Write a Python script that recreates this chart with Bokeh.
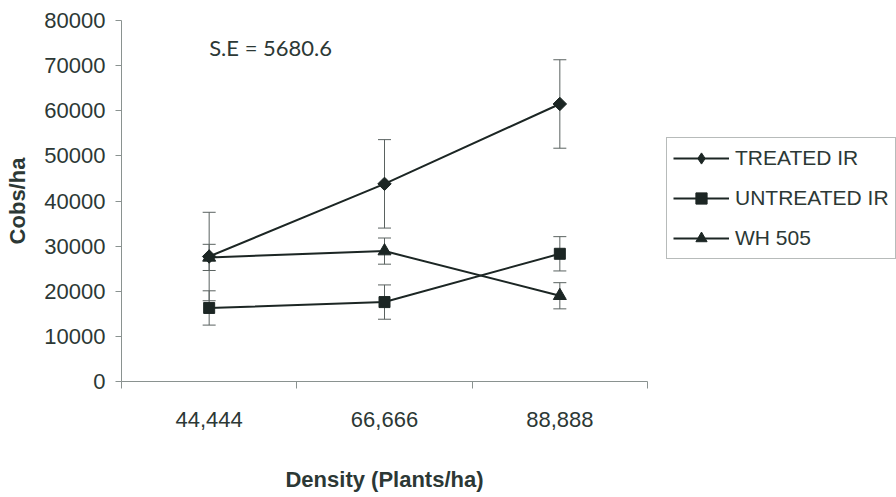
import math
from bokeh.plotting import figure
from bokeh.layouts import row
from bokeh.models import (ColumnDataSource, Range1d, FixedTicker, Whisker, TeeHead,
                          Legend, LegendItem, Label)
from bokeh.embed import file_html
from bokeh.resources import INLINE

# ---- data ----
categories = ["44,444", "66,666", "88,888"]
treated = [27700, 43800, 61500]
treated_err = [9800, 9800, 9800]
untreated = [16300, 17600, 28300]
untreated_err = [3800, 3800, 3800]
wh505 = [27500, 28900, 19000]
wh505_err = [2900, 2900, 2900]
y_ticks = [0, 10000, 20000, 30000, 40000, 50000, 60000, 70000, 80000]
se_text = "S.E = 5680.6"

TEXT = "#2c3835"
LINE = "#1c2624"
AXIS = "#8a9290"
ERR = "#5a6260"

xs = [i + 0.5 for i in range(len(categories))]

p = figure(width=650, height=497, output_backend="svg", toolbar_location=None,
           x_range=Range1d(0, len(categories)), y_range=Range1d(0, 80000),
           min_border_left=121, min_border_right=3, min_border_top=20,
           min_border_bottom=116)
p.outline_line_color = None
p.xgrid.visible = False
p.ygrid.visible = False
p.background_fill_color = "white"
p.border_fill_color = "white"

# x axis
xa = p.xaxis[0]
xa.ticker = FixedTicker(ticks=xs, minor_ticks=list(range(len(categories) + 1)))
xa.major_label_overrides = {x: c for x, c in zip(xs, categories)}
xa.major_tick_line_color = None
xa.major_tick_out = 0
xa.major_tick_in = 0
xa.minor_tick_out = 7
xa.minor_tick_in = 0
xa.minor_tick_line_color = AXIS
xa.axis_line_color = AXIS
xa.major_label_standoff = 23
xa.major_label_text_font = "Liberation Sans"
xa.major_label_text_font_size = "22px"
xa.major_label_text_color = TEXT
xa.axis_label = "Density (Plants/ha)"
xa.axis_label_text_font = "Liberation Sans"
xa.axis_label_text_font_style = "bold"
xa.axis_label_text_font_size = "22px"
xa.axis_label_text_color = TEXT
xa.axis_label_standoff = 37

# y axis
ya = p.yaxis[0]
ya.ticker = FixedTicker(ticks=y_ticks)
ya.major_label_overrides = {t: str(t) for t in y_ticks}
ya.minor_tick_line_color = None
ya.major_tick_out = 6
ya.major_tick_in = 0
ya.major_tick_line_color = AXIS
ya.axis_line_color = AXIS
ya.major_label_standoff = 10
ya.major_label_text_font = "Liberation Sans"
ya.major_label_text_font_size = "22px"
ya.major_label_text_color = TEXT
ya.axis_label = "Cobs/ha"
ya.axis_label_text_font = "Liberation Sans"
ya.axis_label_text_font_style = "bold"
ya.axis_label_text_font_size = "22px"
ya.axis_label_text_color = TEXT
ya.axis_label_standoff = 11

series = [
    ("TREATED IR", treated, treated_err, "square", 9.5, math.pi / 4, "diamond"),
    ("UNTREATED IR", untreated, untreated_err, "square", 11, 0, "square"),
    ("WH 505", wh505, wh505_err, "triangle", 13, 0, "triangle"),
]

# legend panel (separate figure to the right; its frame is aligned with p's)
p2 = figure(width=246, height=497, output_backend="svg", toolbar_location=None,
            x_axis_location=None, y_axis_location=None,
            min_border_left=0, min_border_right=0, min_border_top=0,
            min_border_bottom=0, x_range=Range1d(-100, -99), y_range=Range1d(-100, -99))
p2.outline_line_color = None
p2.xgrid.visible = False
p2.ygrid.visible = False
p2.border_fill_color = "white"

items = []
for name, vals, errs, marker, size, ang, leg_marker in series:
    src = ColumnDataSource(dict(x=xs, y=vals,
                                upper=[v + e for v, e in zip(vals, errs)],
                                lower=[v - e for v, e in zip(vals, errs)]))
    w = Whisker(source=src, base="x", upper="upper", lower="lower",
                line_color=ERR, line_width=1,
                upper_head=TeeHead(size=13, line_color=ERR, line_width=1),
                lower_head=TeeHead(size=13, line_color=ERR, line_width=1))
    p.add_layout(w)
    p.line("x", "y", source=src, line_color=LINE, line_width=2)
    p.scatter("x", "y", source=src, marker=marker, size=size, angle=ang,
              fill_color=LINE, line_color=LINE)
    # proxies for the legend (same data, out of p2's visible range)
    lr = p2.line("x", "y", source=src, line_color=LINE, line_width=2)
    sr = p2.scatter("x", "y", source=src, marker=leg_marker,
                    fill_color=LINE, line_color=LINE)
    items.append(LegendItem(label=name, renderers=[lr, sr]))

legend = Legend(items=items, location=(16, 122),
                label_text_font="Liberation Sans", label_text_font_size="21px",
                label_text_color=TEXT, glyph_width=56, glyph_height=28,
                label_height=28, spacing=12, padding=6, margin=0,
                label_standoff=6, border_line_color="#6f7775", border_line_width=1,
                background_fill_alpha=1.0)
p2.add_layout(legend, "center")

p.add_layout(Label(x=0.5, y=74000, text=se_text, text_font="Lato",
                   text_font_size="22px", text_color=TEXT,
                   text_baseline="alphabetic"))

layout = row(p, p2, spacing=0)
open("out.html", "w").write(file_html(layout, INLINE))
